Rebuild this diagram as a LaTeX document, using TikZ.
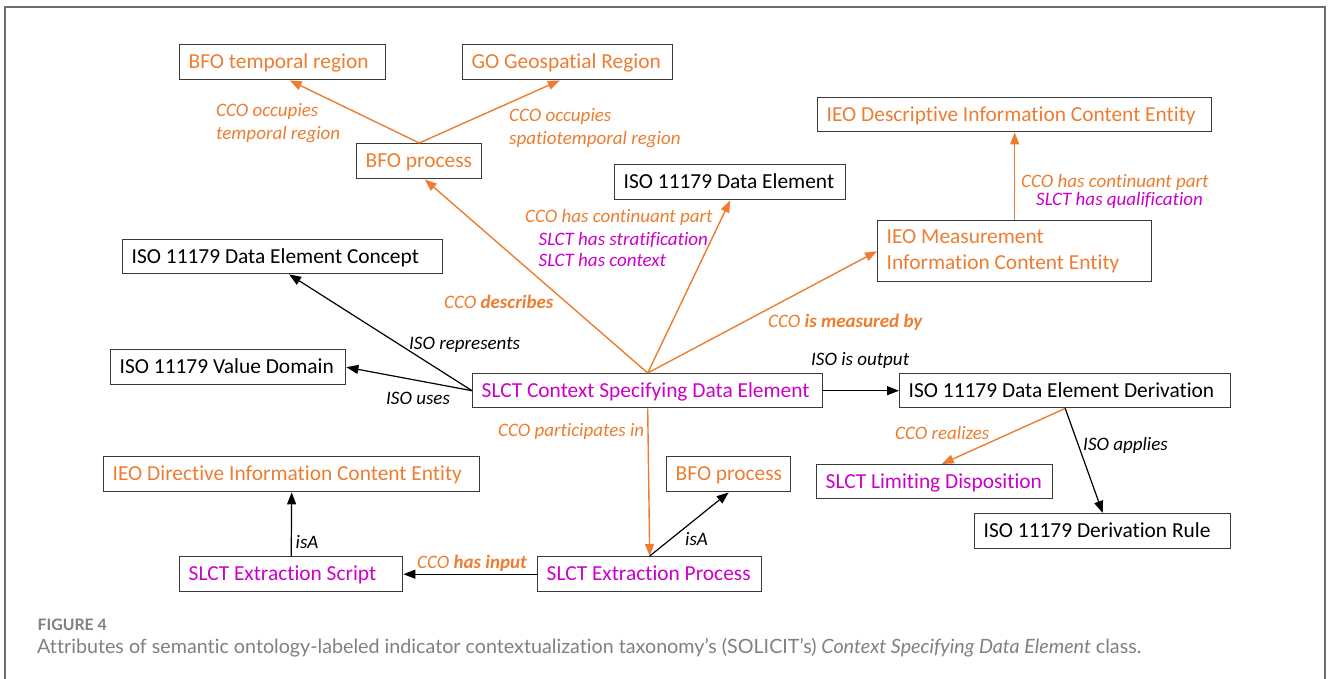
\documentclass[tikz,border=0pt]{standalone}
\usepackage{fontspec}
\setmainfont{Carlito}[Ligatures=NoCommon]
\newfontfamily\capfont{Lato}[Ligatures=NoCommon]
\usetikzlibrary{arrows.meta,calc}
\definecolor{cco}{HTML}{ED7D31}
\definecolor{slct}{HTML}{CC00CC}
\definecolor{boxline}{HTML}{3A3A3A}
\definecolor{framegray}{HTML}{6E6E6E}
\definecolor{capgray}{HTML}{808080}
% left-aligned entity label of a fixed inner width
\newcommand{\entlabel}[2]{\makebox[#1][l]{#2}}
\tikzset{
  ent/.style={draw=boxline, line width=1.4pt, anchor=north west, inner xsep=9pt, inner ysep=0pt,
    font=\fontsize{21.4}{26}\selectfont, text height=17.5pt, text depth=4pt, minimum height=#1},
  ent/.default=35pt,
  entmulti/.style={draw=boxline, line width=1.4pt, anchor=north west, inner xsep=9pt, inner ysep=0pt,
    font=\fontsize{21.4}{26}\selectfont, minimum height=#1},
  rel/.style={anchor=base west, inner sep=0pt, font=\fontsize{19}{22}\selectfont\itshape},
  olink/.style={draw=cco, line width=1.4pt, -{Triangle[length=12pt,width=9pt]}, color=cco},
  blink/.style={draw=black, line width=1.2pt, -{Triangle[length=12pt,width=9pt]}},
}
\begin{document}
\begin{tikzpicture}[x=1pt,y=-1pt]
\useasboundingbox (0,0) rectangle (1328,679);
\fill[white] (0,0) rectangle (1328,679);
% outer frame, open at the bottom edge
\draw[framegray, line width=2pt] (4.5,690) -- (4.5,7.5) -- (1325,7.5) -- (1325,690);

% entities
\node[ent, text=cco] (tr) at (179,44) {\entlabel{188pt}{BFO temporal region}};
\node[ent, text=cco] (geo) at (462,44) {\entlabel{192pt}{GO Geospatial Region}};
\node[ent, text=cco] (proc1) at (356,143) {\entlabel{107pt}{BFO process}};
\node[ent] (de) at (614,164) {\entlabel{213pt}{ISO 11179 Data Element}};
\node[ent=34pt, text=cco] (desc) at (817,97) {\entlabel{376pt}{IEO Descriptive Information Content Entity}};
\node[entmulti=61pt, text=cco] (meas) at (877,220)
  {\parbox[c]{256pt}{\raggedright IEO Measurement\\Information Content Entity}};
\node[ent=34pt] (dec) at (122,239) {\entlabel{302pt}{ISO 11179 Data Element Concept}};
\node[ent] (vd) at (110,349) {\entlabel{217pt}{ISO 11179 Value Domain}};
\node[ent=34pt, text=slct] (csde) at (472,373) {\entlabel{332pt}{SLCT Context Specifying Data Element}};
\node[ent=34pt] (ded) at (899,373) {\entlabel{313pt}{ISO 11179 Data Element Derivation}};
\node[ent=34pt, text=slct] (ld) at (816,464) {\entlabel{218pt}{SLCT Limiting Disposition}};
\node[ent] (dr) at (974,513) {\entlabel{238pt}{ISO 11179 Derivation Rule}};
\node[ent, text=cco] (dir) at (103,456) {\entlabel{358pt}{IEO Directive Information Content Entity}};
\node[ent, text=cco] (proc2) at (666,456) {\entlabel{106pt}{BFO process}};
\node[ent, text=slct] (scr) at (179,556) {\entlabel{205pt}{SLCT Extraction Script}};
\node[ent, text=slct] (ep) at (537,556) {\entlabel{206pt}{SLCT Extraction Process}};

% connectors
\draw[olink] (proc1.north) -- ($(tr.south west)!0.534!(tr.south east)$);
\draw[olink] (proc1.north) -- ($(geo.south west)!0.462!(geo.south east)$);
\draw[olink] (csde.north) -- ($(proc1.south west)!0.544!(proc1.south east)$);
\draw[olink] (csde.north) -- (de.south);
\draw[olink] (csde.north) -- (meas.west);
\draw[olink] (meas.north) -- (desc.south);
\draw[blink] (csde.west) -- ($(dec.south west)!0.52!(dec.south east)$);
\draw[blink] (csde.west) -- (vd.east);
\draw[blink] (csde.east) -- (ded.west);
\draw[olink] (ded.south) -- ($(ld.north west)!0.53!(ld.north east)$);
\draw[blink] (ded.south) -- (dr.north);
\draw[olink] (csde.south) -- (ep.north);
\draw[blink] (ep.north) -- (proc2.south);
\draw[blink] (ep.west) -- (scr.east);
\draw[blink] (scr.north) -- (dir.south);

% relation labels
\node[rel, text=cco] (l1a) at (216,117) {CCO occupies};
\node[rel, text=cco] (l1b) at (216,140) {temporal region};
\node[rel, text=cco] (l2a) at (509,122) {CCO occupies};
\node[rel, text=cco] (l2b) at (509,145) {spatiotemporal region};
\node[rel, text=cco] (l3a) at (525,223) {CCO has continuant part};
\node[rel, text=slct] (l3b) at (538.5,245) {SLCT has stratification};
\node[rel, text=slct] (l3c) at (538.5,266) {SLCT has context};
\node[rel, text=cco] (l4) at (444,308) {CCO \textbf{describes}};
\node[rel, text=cco] (l5) at (768,327) {CCO \textbf{is measured by}};
\node[rel, text=cco] (l6a) at (1021,188) {CCO has continuant part};
\node[rel, text=slct] (l6b) at (1036,206) {SLCT has qualification};
\node[rel] (l7) at (409,349) {ISO represents};
\node[rel] (l8) at (811,365) {ISO is output};
\node[rel] (l9) at (386,404) {ISO uses};
\node[rel, text=cco] (l10) at (498,436) {CCO participates in};
\node[rel, text=cco] (l11) at (895,439) {CCO realizes};
\node[rel] (l12) at (1083,450) {ISO applies};
\node[rel] (l13) at (295.5,548) {isA};
\node[rel, text=cco] (l14) at (417,568) {CCO \textbf{has input}};
\node[rel] (l15) at (685,545) {isA};

% caption
\node[anchor=base west, inner sep=0pt, text=capgray, font=\capfont\bfseries\fontsize{15.8}{18}\selectfont] (fig) at (37.5,630) {FIGURE 4};
\node[anchor=base west, inner sep=0pt, text=capgray, font=\capfont\fontsize{19.7}{22}\selectfont] (cap) at (37,653)
  {Attributes of semantic ontology-labeled indicator contextualization taxonomy’s (SOLICIT’s) \textit{Context Specifying Data Element} class.};
\end{tikzpicture}
\end{document}
